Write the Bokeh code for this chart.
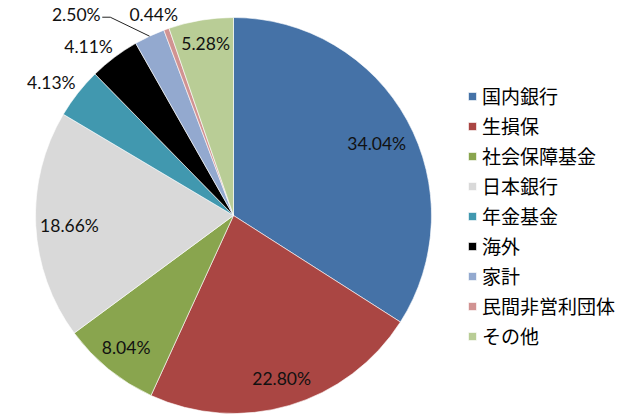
import math
from bokeh.plotting import figure
from bokeh.models import Range1d, Legend, LegendItem, ColumnDataSource
from bokeh.core.properties import value
from bokeh.embed import file_html
from bokeh.resources import INLINE

# ---- data ----
categories = ["国内銀行", "生損保", "社会保障基金", "日本銀行", "年金基金",
              "海外", "家計", "民間非営利団体", "その他"]
shares = [34.04, 22.80, 8.04, 18.66, 4.13, 4.11, 2.50, 0.44, 5.28]
colors = ["#4572A7", "#AA4643", "#89A54E", "#D9D9D9", "#4198AF",
          "#000000", "#93A9CF", "#D19392", "#B9CD96"]

# ---- layout (label placement relative to each slice) ----
label_r = [0.81, 0.86, 0.86, 0.83, 1.14, 1.125, 1.29, 1.09, 0.88]
label_dang = [2.0, 0.0, 0.0, -0.7, -2.0, -3.6, -12.9, -1.9, 0.3]
leader_for = [6]

W, H = 637, 420
CX, CY, R = 233, 205, 198

p = figure(width=W, height=H, output_backend="svg", toolbar_location=None,
           x_range=Range1d(0, W), y_range=Range1d(0, H), min_border=0)
p.axis.visible = False
p.grid.visible = False
p.outline_line_color = None
p.background_fill_color = "white"
p.border_fill_color = "white"

total = sum(shares)
starts, ends, mids = [], [], []
cum = 0.0
for s in shares:
    a0 = cum / total * 360.0
    cum += s
    a1 = cum / total * 360.0
    starts.append(math.radians(90 - a0))
    ends.append(math.radians(90 - a1))
    mids.append((a0 + a1) / 2.0)

src = ColumnDataSource(dict(x=[CX] * len(shares), y=[CY] * len(shares),
                            start=starts, end=ends, color=colors, cat=categories))
wr = p.wedge(x="x", y="y", radius=R, start_angle="start", end_angle="end",
             direction="clock", fill_color="color", line_color="white",
             line_width=0.6, source=src)

lx, ly, lt = [], [], []
for i, s in enumerate(shares):
    th = math.radians(mids[i] + label_dang[i])
    lx.append(CX + label_r[i] * R * math.sin(th))
    ly.append(CY + label_r[i] * R * math.cos(th))
    lt.append(f"{s:.2f}%")

p.text(x=lx, y=ly, text=lt, text_font=value("Lato"), text_font_size="17.5px",
       text_color="#111111", text_align="center", text_baseline="middle")

for i in leader_for:
    th = math.radians(mids[i])
    ex, ey = CX + R * math.sin(th), CY + R * math.cos(th)
    p.line(x=[ex, lx[i] + 34, lx[i] + 26], y=[ey, ly[i] - 3, ly[i] - 3],
           line_color="#222222", line_width=1)

items = [LegendItem(label=c, renderers=[wr], index=i) for i, c in enumerate(categories)]
legend = Legend(items=items, location=(467, 71), padding=0, margin=0,
                glyph_width=10, glyph_height=10, label_height=20, spacing=3,
                label_standoff=5, border_line_color=None,
                background_fill_alpha=0, label_text_font="Noto Sans CJK JP",
                label_text_font_size="19px", label_text_color="#000000")
p.add_layout(legend, "center")

open("out.html", "w").write(file_html(p, INLINE))
